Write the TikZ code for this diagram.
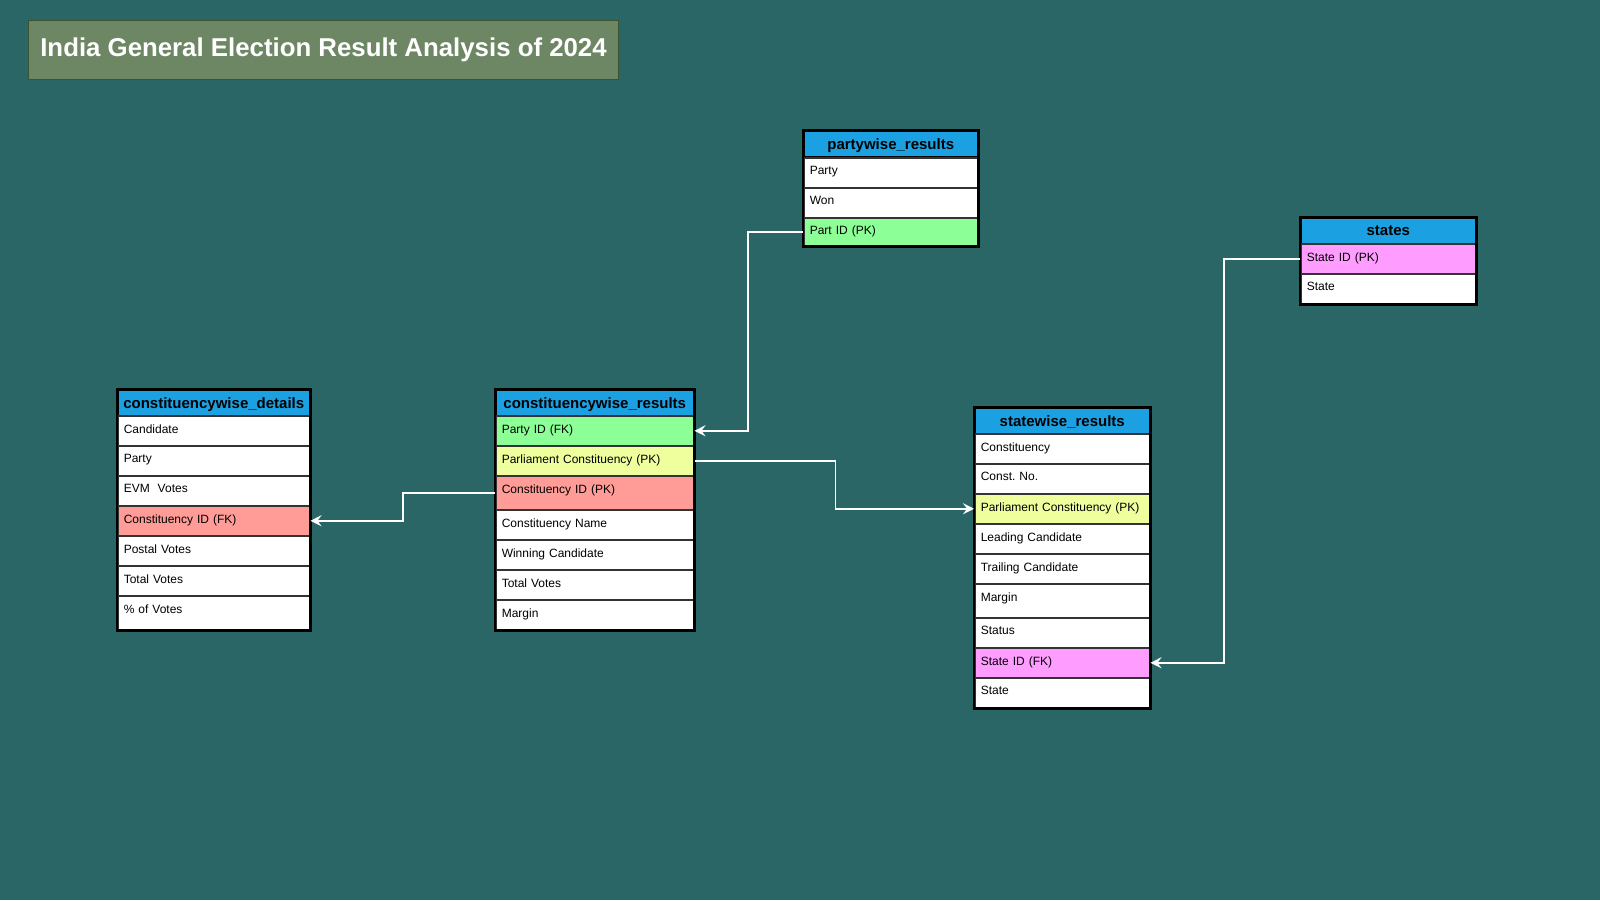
\documentclass[tikz,border=0pt]{standalone}
\usepackage{fontspec}
\setmainfont{Liberation Sans}
\usetikzlibrary{arrows.meta}
\definecolor{bgteal}{HTML}{2A6666}
\definecolor{titlegreen}{HTML}{6D8764}
\definecolor{titleedge}{HTML}{3A5431}
\definecolor{hdrblue}{HTML}{1BA1E2}
\definecolor{keygreen}{HTML}{8CFF96}
\definecolor{keyyellow}{HTML}{EFFF9E}
\definecolor{keyred}{HTML}{FF9C98}
\definecolor{keypink}{HTML}{FF9CFF}
\tikzset{
  hdr/.style={draw=black, line width=1.5pt, fill=hdrblue, anchor=north west,
    font=\bfseries\fontsize{15}{17}\selectfont, minimum height=26pt,
    minimum width=#1, inner sep=0pt, text depth=0pt},
  fld/.style={draw=black!80, line width=1.5pt, fill=white, anchor=north west,
    font=\fontsize{12}{14}\selectfont, minimum height=30pt,
    text width=#1, align=left, inner xsep=6pt, inner ysep=0pt, text depth=4pt},
  tallfld/.style={minimum height=34pt, text depth=8pt},
  frame/.style={draw=black, line width=2.2pt},
  link/.style={draw=white, line width=1.5pt, -{Stealth[length=11pt, width=11pt, inset=4pt]}}
}
\begin{document}
\begin{tikzpicture}[x=1pt, y=-1pt]
    \fill[bgteal] (0,0) rectangle (1600,900);
    \useasboundingbox (0,0) rectangle (1600,900);

    % title
    \node[draw=titleedge, line width=1pt, fill=titlegreen, text=white, anchor=north west,
      minimum width=590pt, minimum height=59pt, inner sep=0pt,
      font=\bfseries\fontsize{25.8}{30}\selectfont] (title) at (28,20)
      {India General Election Result Analysis of 2024};

    % constituencywise_details
    \node[hdr=192pt] (cd-h) at (117,389) {constituencywise\_details};
    \node[fld=180pt] (cd-1) at (117,415) {Candidate};
    \node[fld=180pt] (cd-2) at (117,445) {Party};
    \node[fld=180pt] (cd-3) at (117,475) {EVM\ \ Votes};
    \node[fld=180pt, fill=keyred] (cd-4) at (117,505) {Constituency ID (FK)};
    \node[fld=180pt] (cd-5) at (117,535) {Postal Votes};
    \node[fld=180pt] (cd-6) at (117,565) {Total Votes};
    \node[fld=180pt, tallfld] (cd-7) at (117,595) {\% of Votes};
    \draw[frame] (cd-h.north west) rectangle (cd-7.south east);

    % constituencywise_results
    \node[hdr=198pt] (cr-h) at (495,389) {constituencywise\_results};
    \node[fld=186pt, fill=keygreen] (cr-1) at (495,415) {Party ID (FK)};
    \node[fld=186pt, fill=keyyellow] (cr-2) at (495,445) {Parliament Constituency (PK)};
    \node[fld=186pt, fill=keyred, tallfld] (cr-3) at (495,475) {Constituency ID (PK)};
    \node[fld=186pt] (cr-4) at (495,509) {Constituency Name};
    \node[fld=186pt] (cr-5) at (495,539) {Winning Candidate};
    \node[fld=186pt] (cr-6) at (495,569) {Total Votes};
    \node[fld=186pt] (cr-7) at (495,599) {Margin};
    \draw[frame] (cr-h.north west) rectangle (cr-7.south east);

    % partywise_results
    \node[hdr=174pt] (py-h) at (803,130) {partywise\_results};
    \node[fld=162pt] (py-1) at (803,157) {Party};
    \node[fld=162pt] (py-2) at (803,187) {Won};
    \node[fld=162pt, fill=keygreen, minimum height=28pt] (py-3) at (803,217) {Part ID (PK)};
    \draw[frame] (py-h.north west) rectangle (py-3.south east);

    % states
    \node[hdr=175pt] (st-h) at (1300,217) {states};
    \node[fld=163pt, fill=keypink] (st-1) at (1300,243) {State ID (PK)};
    \node[fld=163pt] (st-2) at (1300,273) {State};
    \draw[frame] (st-h.north west) rectangle (st-2.south east);

    % statewise_results
    \node[hdr=175pt] (sw-h) at (974,407) {statewise\_results};
    \node[fld=163pt] (sw-1) at (974,433) {Constituency};
    \node[fld=163pt] (sw-2) at (974,463) {Const.\ No.};
    \node[fld=163pt, fill=keyyellow] (sw-3) at (974,493) {Parliament Constituency (PK)};
    \node[fld=163pt] (sw-4) at (974,523) {Leading Candidate};
    \node[fld=163pt] (sw-5) at (974,553) {Trailing Candidate};
    \node[fld=163pt, tallfld] (sw-6) at (974,583) {Margin};
    \node[fld=163pt] (sw-7) at (974,617) {Status};
    \node[fld=163pt, fill=keypink] (sw-8) at (974,647) {State ID (FK)};
    \node[fld=163pt] (sw-9) at (974,677) {State};
    \draw[frame] (sw-h.north west) rectangle (sw-9.south east);

    % relations
    \draw[link] (cr-3.west) -- ++(-92,0) |- (cd-4.east);
    \draw[link] (py-3.west) -- ++(-55,0) |- (cr-1.east);
    \draw[link] (cr-2.east) -- ++(141,0) |- (sw-3.west);
    \draw[link] (st-1.west) -- ++(-76,0) |- (sw-8.east);
\end{tikzpicture}
\end{document}
